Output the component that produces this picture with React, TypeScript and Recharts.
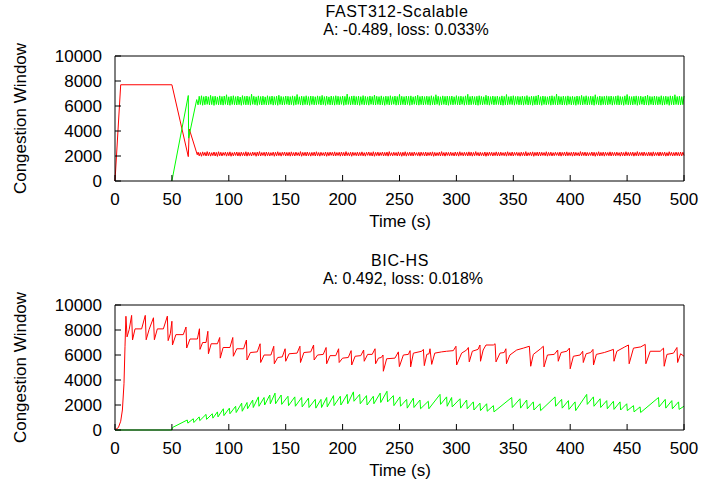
import { Line, LineChart, XAxis, YAxis } from 'recharts';

const xTicks = [0, 50, 100, 150, 200, 250, 300, 350, 400, 450, 500];
const yTicks = [0, 2000, 4000, 6000, 8000, 10000];

// FAST312-Scalable: start-up part, read point by point
const fastRedHeadT = [0, 5, 50, 64.4, 65.3, 72.3];
const fastRedHeadV = [0, 7700, 7700, 1950, 4150, 2100];
const fastGreenHeadT = [50, 64.4, 64.7, 71.8];
const fastGreenHeadV = [0, 6840, 3430, 6515];

// FAST312-Scalable: steady oscillation, one sample per second from t=73 to t=500
const fastOscStart = 73;
const fastGreenOsc = [
  6090, 6780, 6120, 6820, 6060, 6750, 6100, 6800, 6130, 6740, 6080, 6850, 6110, 6770, 6050, 6790, 6120, 6730, 6090, 6810,
  6100, 6760, 6070, 6800, 6130, 6900, 6090, 6740, 6060, 6780, 6120, 6820, 6100, 6750, 6080, 6790, 6110, 6720, 6060, 6830,
  6120, 6770, 6090, 6800, 6100, 6750, 6070, 6940, 6130, 6780, 6100, 6740, 6060, 6810, 6120, 6760, 6080, 6790, 6110, 6730,
  6090, 6820, 6100, 6760, 6130, 6800, 6070, 6750, 6110, 6790, 6060, 6860, 6120, 6770, 6090, 6740, 6100, 6800, 6130, 6780,
  6080, 6750, 6110, 6810, 6060, 6770, 6100, 6920, 6130, 6740, 6090, 6790, 6070, 6760, 6110, 6820, 6100, 6750, 6060, 6800,
  6120, 6780, 6090, 6740, 6100, 6810, 6130, 6770, 6080, 6850, 6110, 6750, 6060, 6790, 6120, 6730, 6090, 6800, 6100, 6760,
  6070, 6820, 6110, 6780, 6090, 6750, 6130, 6800, 6060, 6770, 6100, 6950, 6120, 6740, 6080, 6790, 6110, 6810, 6090, 6760,
  6100, 6790, 6060, 6750, 6120, 6830, 6090, 6770, 6110, 6740, 6070, 6800, 6130, 6760, 6100, 6880, 6080, 6780, 6120, 6750,
  6090, 6810, 6100, 6740, 6060, 6790, 6120, 6770, 6080, 6820, 6110, 6750, 6130, 6800, 6070, 6760, 6100, 6930, 6090, 6780,
  6110, 6750, 6080, 6800, 6120, 6770, 6060, 6810, 6100, 6740, 6130, 6790, 6090, 6860, 6070, 6760, 6110, 6800, 6080, 6750,
  6120, 6790, 6100, 6760, 6070, 6820, 6110, 6750, 6090, 6900, 6130, 6780, 6060, 6740, 6100, 6810, 6120, 6770, 6080, 6790,
  6060, 6770, 6110, 6800, 6090, 6740, 6120, 6830, 6100, 6760, 6080, 6790, 6130, 6750, 6070, 6810, 6110, 6940, 6090, 6760,
  6100, 6800, 6130, 6750, 6080, 6780, 6060, 6820, 6110, 6770, 6090, 6740, 6120, 6860, 6100, 6790, 6070, 6750, 6130, 6800,
  6090, 6760, 6110, 6790, 6120, 6740, 6080, 6810, 6060, 6770, 6100, 6920, 6090, 6750, 6120, 6780, 6110, 6820, 6070, 6760,
  6130, 6780, 6090, 6750, 6100, 6800, 6070, 6760, 6120, 6830, 6080, 6740, 6110, 6790, 6060, 6770, 6100, 6810, 6090, 6880,
  6110, 6750, 6060, 6800, 6120, 6770, 6090, 6740, 6130, 6790, 6070, 6820, 6100, 6760, 6110, 6950, 6080, 6780, 6120, 6750,
  6080, 6790, 6100, 6760, 6070, 6810, 6130, 6750, 6090, 6780, 6110, 6740, 6060, 6800, 6120, 6770, 6100, 6850, 6090, 6760,
  6120, 6820, 6080, 6750, 6110, 6790, 6100, 6770, 6060, 6900, 6130, 6740, 6090, 6800, 6070, 6760, 6110, 6780, 6100, 6810,
  6090, 6770, 6130, 6800, 6070, 6750, 6120, 6790, 6100, 6830, 6080, 6760, 6110, 6740, 6060, 6810, 6120, 6920, 6090, 6770,
  6100, 6750, 6090, 6780, 6120, 6810, 6060, 6760, 6110, 6790, 6130, 6740, 6080, 6800, 6100, 6860, 6070, 6770, 6120, 6750,
  6080, 6800, 6110, 6770, 6090, 6740, 6120, 6820, 6070, 6760, 6100, 6790, 6130, 6750, 6060, 6810, 6110, 6780, 6090, 6900,
  6120, 6760, 6100, 6790, 6080, 6750, 6110, 6800,
];
const fastRedOsc = [
  2310, 2010, 2280, 1980, 2330, 2040, 2290, 2000, 2350, 2020, 2300, 1990, 2270, 2030, 2320, 2000, 2290, 1970, 2340, 2020,
  2300, 2000, 2280, 2050, 2310, 1990, 2290, 2020, 2330, 1980, 2270, 2010, 2300, 2040, 2320, 2000, 2290, 1990, 2310, 2030,
  2280, 2010, 2340, 1990, 2300, 2030, 2270, 2000, 2320, 2050, 2290, 1980, 2310, 2020, 2350, 2000, 2280, 2040, 2300, 1990,
  2320, 2020, 2290, 2000, 2270, 2040, 2310, 1980, 2300, 2010, 2340, 2030, 2280, 1990, 2300, 2050, 2320, 2000, 2290, 2020,
  2300, 1990, 2330, 2020, 2280, 2000, 2310, 2040, 2270, 2010, 2350, 1980, 2290, 2030, 2300, 2000, 2320, 2020, 2280, 1990,
  2290, 2030, 2310, 2000, 2340, 2020, 2280, 1990, 2300, 2040, 2270, 2010, 2320, 1980, 2290, 2020, 2310, 2050, 2300, 2000,
  2330, 2010, 2280, 2040, 2300, 1990, 2320, 2020, 2290, 2000, 2350, 2030, 2270, 2010, 2310, 1980, 2300, 2040, 2280, 2020,
  2310, 2000, 2290, 2030, 2330, 2010, 2270, 1990, 2300, 2050, 2320, 2020, 2280, 2000, 2340, 1980, 2290, 2030, 2310, 2010,
  2280, 2040, 2320, 2000, 2290, 2020, 2310, 1990, 2350, 2030, 2270, 2010, 2300, 2040, 2280, 2000, 2330, 2020, 2290, 1980,
  2300, 2020, 2340, 1990, 2280, 2030, 2310, 2010, 2290, 2000, 2320, 2050, 2270, 2020, 2300, 1990, 2310, 2040, 2290, 2000,
  2320, 2000, 2280, 2040, 2300, 2020, 2330, 1980, 2290, 2010, 2270, 2030, 2310, 2000, 2350, 2020, 2280, 1990, 2300, 2040,
  2290, 2010, 2310, 2030, 2270, 2000, 2320, 2020, 2300, 1990, 2340, 2040, 2280, 2010, 2300, 2030, 2290, 2000, 2330, 2020,
  2310, 1990, 2290, 2020, 2350, 2040, 2280, 2000, 2300, 2030, 2270, 2010, 2320, 1980, 2290, 2020, 2310, 2040, 2300, 2000,
  2280, 2030, 2330, 2010, 2290, 2000, 2310, 2040, 2270, 2020, 2300, 1990, 2340, 2030, 2280, 2010, 2320, 2000, 2290, 2050,
  2300, 2020, 2280, 1990, 2310, 2030, 2290, 2010, 2350, 2000, 2270, 2040, 2300, 2020, 2330, 1980, 2290, 2030, 2310, 2000,
  2320, 2010, 2300, 2040, 2280, 2020, 2340, 1990, 2290, 2030, 2310, 2000, 2270, 2020, 2300, 2050, 2280, 2010, 2320, 1990,
  2290, 2040, 2310, 2000, 2330, 2020, 2280, 2030, 2300, 1990, 2320, 2010, 2290, 2040, 2270, 2000, 2350, 2020, 2300, 2030,
  2310, 2000, 2290, 2020, 2270, 2040, 2320, 2010, 2300, 1980, 2280, 2030, 2340, 2000, 2290, 2020, 2310, 1990, 2300, 2040,
  2280, 2020, 2330, 2000, 2300, 2030, 2290, 2010, 2310, 2040, 2270, 1990, 2320, 2020, 2280, 2000, 2340, 2030, 2290, 2010,
  2300, 2030, 2310, 1990, 2280, 2020, 2350, 2000, 2290, 2040, 2300, 2010, 2320, 2030, 2270, 2000, 2310, 2020, 2290, 1990,
  2330, 2010, 2280, 2040, 2300, 2000, 2320, 2020, 2290, 2030, 2310, 1990, 2270, 2010, 2340, 2040, 2300, 2000, 2280, 2020,
  2310, 2030, 2290, 2000, 2320, 2010, 2300, 2040,
];

// BIC-HS
const bicRedT = [
  0, 3, 5, 6.5, 7.9, 8.8, 9.6, 10.6, 12.5, 14.6, 15.4, 17.6, 23.4, 26.6, 27.4, 30, 33.8, 34.6, 37.2, 42.5, 46,
  46.7, 48.6, 50, 50.5, 53.5, 60, 62.4, 63, 65.9, 72.4, 74.2, 74.7, 77, 80, 81.6, 82.1, 84.5, 90, 92,
  92.5, 95, 101, 103.5, 104, 107, 113, 115.5, 116, 119, 125, 127.5, 128, 131, 137, 139.5, 140, 143, 147, 149.5,
  150, 153, 160, 162.5, 163, 166, 172, 174.5, 175, 178, 183, 185.5, 186, 189, 194, 196.5, 197, 200, 205, 207.5,
  208, 211, 216, 218.5, 219, 222, 226, 228.5, 229, 231.5, 234, 235.5, 235.8, 238.7, 246, 249, 249.9, 253.4, 257.8, 259.3,
  259.8, 262.2, 269.5, 271, 271.8, 274, 276, 276.8, 278.3, 281, 287, 291.4, 297.3, 299.6, 300.2, 304.6, 309, 310.5,
  311.3, 314, 319, 320.7, 321.2, 323.5, 326, 332.5, 334, 334.8, 338.3, 342, 343.5, 344, 347, 353, 358.8, 364.1,
  365.3, 367.6, 374, 376.4, 377, 380, 386, 389, 389.5, 392, 397, 399.3, 400, 402.8, 408.7, 411, 411.5, 414, 418, 420,
  420.5, 423, 430, 435, 438, 438.5, 441, 448, 451.2, 451.8, 455.6, 462, 465.9, 466.5, 470.3, 479.1, 482, 482.6, 485,
  490.8, 493.8, 494.4, 497, 500,
];
const bicRedV = [
  0, 200, 700, 1600, 3700, 6700, 9100, 7450, 8050, 9170, 7200, 8090, 8090, 9170, 7220, 8050, 8980, 7220, 8090, 8090, 9110,
  7150, 7700, 8700, 6800, 7630, 7630, 8240, 6560, 7280, 7280, 8100, 6450, 7000, 7000, 7900, 6100, 6900, 6900, 7400,
  5750, 6600, 6600, 7400, 5900, 6500, 6500, 7200, 5600, 6200, 6250, 6900, 5400, 6000, 6000, 6700, 5300, 5800, 5850, 6500,
  5500, 6100, 6150, 6700, 5400, 6200, 6250, 6800, 5600, 6000, 6050, 6600, 5300, 5950, 5950, 6500, 5400, 5750, 5800, 6350,
  5200, 5900, 5950, 6400, 5500, 6050, 6050, 6500, 5300, 5750, 5800, 6000, 4700, 5700, 5750, 6250, 5070, 6000, 6050, 6350,
  5050, 6150, 6300, 6450, 5150, 6050, 6100, 6500, 5250, 6150, 6250, 6300, 6350, 6700, 5200, 6150, 6400, 6600,
  5450, 6300, 6450, 6800, 5500, 6400, 6800, 6800, 6900, 5450, 6150, 6200, 6500, 5300, 6000, 6400, 6550, 6700,
  5100, 6050, 6500, 6700, 5050, 6000, 6050, 6400, 5500, 6200, 6300, 6550, 4900, 5900, 6000, 6300, 5400, 6100, 6200, 6450,
  5200, 6050, 6200, 6350, 6450, 5500, 6300, 6650, 6800, 5300, 6550, 6650, 6850, 5300, 6300, 6300, 6550, 5100, 6050,
  6150, 6600, 5400, 6100, 5900,
];
const bicGreenT = [
  0, 50, 50.5, 63.5, 64, 68.8, 69.3, 74, 74.5, 80, 80.5, 85.5, 86, 90, 90.5, 95.2, 95.7, 100.5, 101, 106, 106.5,
  111.3, 111.8, 116, 116.5, 121, 121.5, 126, 126.5, 131, 131.5, 136, 136.5, 140.6, 141.1, 146, 146.5, 152, 152.5,
  158, 158.5, 164, 164.5, 170, 170.5, 176, 176.5, 181, 181.5, 186, 186.5, 192, 192.5, 198, 198.5, 204, 204.5,
  209.5, 210, 215, 215.5, 221, 221.5, 227, 227.5, 233, 233.5, 239, 239.5, 244.6, 245.1, 250.4, 250.9, 256.3, 256.8,
  262.2, 262.7, 268, 268.5, 275.3, 275.8, 285.6, 286.1, 291.4, 291.9, 295.8, 296.3, 303.2, 303.7, 309, 309.5,
  314.9, 315.4, 320.7, 321.2, 326.6, 327.1, 332.5, 333, 348.6, 349.1, 355.9, 356.4, 361.8, 362.3, 367.6, 368.1,
  373.5, 374, 386.7, 387.2, 392.5, 393, 398.4, 398.9, 404.3, 404.8, 414.5, 415, 420.4, 420.9, 426.3, 426.8,
  432.1, 432.6, 438, 438.5, 443.8, 444.3, 449.7, 450.2, 455.6, 456.1, 461.4, 461.9, 477.6, 478.1, 483.5, 484,
  489.3, 489.8, 495.2, 495.7, 500,
];
const bicGreenV = [
  0, 0, 200, 800, 550, 900, 600, 1050, 750, 1250, 850, 1300, 950, 1450, 1050, 1700, 1150, 1750, 1300, 1900, 1400,
  2150, 1500, 2200, 1700, 2400, 1800, 2650, 1900, 2600, 2000, 2800, 2100, 2950, 2100, 2800, 2050, 2700, 1950,
  2650, 1900, 2600, 1850, 2550, 1800, 2450, 1750, 2450, 1800, 2600, 1850, 2750, 1950, 2700, 2000, 2850, 2100,
  3050, 2300, 2850, 2100, 2750, 2000, 2700, 2100, 2950, 2200, 3100, 2250, 2750, 1950, 2650, 1900, 2450, 1750,
  2550, 1800, 2400, 1700, 2300, 1700, 2850, 2050, 2650, 1900, 2600, 1850, 2500, 1750, 2400, 1700,
  2250, 1600, 2150, 1550, 2100, 1500, 1950, 1450, 2600, 1800, 2500, 1750, 2400, 1700, 2250, 1600,
  2100, 1550, 2650, 1900, 2450, 1750, 2350, 1650, 2250, 1550, 2850, 2050, 2650, 1900, 2500, 1800,
  2350, 1700, 2300, 1650, 2250, 1600, 2100, 1550, 1950, 1450, 1850, 1400, 2600, 1850, 2450, 1750,
  2350, 1700, 2250, 1650, 1900,
];

const toPoints = (ts: number[], vs: number[]) => ts.map((t, i) => ({ t, v: vs[i] }));
const oscPoints = (vs: number[]) => vs.map((v, i) => ({ t: fastOscStart + i, v }));

const fastRed = [...toPoints(fastRedHeadT, fastRedHeadV), ...oscPoints(fastRedOsc)];
const fastGreen = [...toPoints(fastGreenHeadT, fastGreenHeadV), ...oscPoints(fastGreenOsc)];
const bicRed = toPoints(bicRedT, bicRedV);
const bicGreen = toPoints(bicGreenT, bicGreenV);

const FONT = "'Liberation Sans', Arial, Helvetica, sans-serif";
const FS = 17;

const BottomTick = (props: any) => {
  const { x, y, payload } = props;
  return (
    <g>
      <line x1={x} y1={y} x2={x} y2={y - 6} stroke='#000' />
      <text x={x} y={y + 24} textAnchor='middle' fontSize={FS} fontFamily={FONT} fill='#000'>
        {payload.value}
      </text>
    </g>
  );
};

const TopTick = (props: any) => {
  const { x, y } = props;
  return <line x1={x} y1={y} x2={x} y2={y + 6} stroke='#000' />;
};

const LeftTick = (props: any) => {
  const { x, y, payload } = props;
  return (
    <g>
      <line x1={x} y1={y} x2={x + 6} y2={y} stroke='#000' />
      <text x={x - 13} y={y + 6} textAnchor='end' fontSize={FS} fontFamily={FONT} fill='#000'>
        {payload.value}
      </text>
    </g>
  );
};

const RightTick = (props: any) => {
  const { x, y } = props;
  return <line x1={x} y1={y} x2={x - 6} y2={y} stroke='#000' />;
};

interface PanelProps {
  title: string;
  subtitle: string;
  titleX: number;
  subtitleX: number;
  red: { t: number; v: number }[];
  green: { t: number; v: number }[];
}

const Panel = ({ title, subtitle, titleX, subtitleX, red, green }: PanelProps) => (
  <LineChart width={701} height={245} margin={{ top: 46, right: 7, bottom: 34, left: 55 }}>
    <XAxis
      xAxisId='b'
      type='number'
      dataKey='t'
      domain={[0, 500]}
      ticks={xTicks}
      tickSize={0}
      tickMargin={0}
      tickLine={false}
      tick={<BottomTick />}
      axisLine={{ stroke: '#000' }}
      height={30}
    />
    <XAxis
      xAxisId='t'
      orientation='top'
      type='number'
      dataKey='t'
      domain={[0, 500]}
      ticks={xTicks}
      tickSize={0}
      tickMargin={0}
      tickLine={false}
      tick={<TopTick />}
      axisLine={{ stroke: '#000' }}
      height={10}
    />
    <YAxis
      yAxisId='l'
      type='number'
      domain={[0, 10000]}
      ticks={yTicks}
      tickSize={0}
      tickMargin={0}
      tickLine={false}
      tick={<LeftTick />}
      axisLine={{ stroke: '#000' }}
      width={60}
    />
    <YAxis
      yAxisId='r'
      orientation='right'
      type='number'
      domain={[0, 10000]}
      ticks={yTicks}
      tickSize={0}
      tickMargin={0}
      tickLine={false}
      tick={<RightTick />}
      axisLine={{ stroke: '#000' }}
      width={10}
    />
    <Line
      xAxisId='b'
      yAxisId='l'
      data={red}
      dataKey='v'
      type='linear'
      stroke='#ff0000'
      strokeWidth={1}
      dot={false}
      activeDot={false}
      isAnimationActive={false}
    />
    <Line
      xAxisId='b'
      yAxisId='l'
      data={green}
      dataKey='v'
      type='linear'
      stroke='#00ff00'
      strokeWidth={1}
      dot={false}
      activeDot={false}
      isAnimationActive={false}
    />
    <text x={titleX} y={16.5} textAnchor='middle' fontSize={16} letterSpacing={0.6} fontFamily={FONT} fill='#000'>
      {title}
    </text>
    <text x={subtitleX} y={35} textAnchor='middle' fontSize={16} fontFamily={FONT} fill='#000'>
      {subtitle}
    </text>
    <text x={400} y={227} textAnchor='middle' fontSize={FS} fontFamily={FONT} fill='#000'>
      Time (s)
    </text>
    <text
      transform='rotate(-90)'
      x={-118.5}
      y={26}
      textAnchor='middle'
      fontSize={FS}
      fontFamily={FONT}
      fill='#000'
    >
      Congestion Window
    </text>
  </LineChart>
);

const App = () => (
  <div style={{ position: 'fixed', left: 0, top: 0, width: 701, height: 489, background: '#fff' }}>
    <div style={{ position: 'absolute', left: 0, top: 0 }}>
      <Panel
        title='FAST312-Scalable'
        subtitle='A: -0.489, loss: 0.033%'
        titleX={397}
        subtitleX={406}
        red={fastRed}
        green={fastGreen}
      />
    </div>
    <div style={{ position: 'absolute', left: 0, top: 249 }}>
      <Panel
        title='BIC-HS'
        subtitle='A: 0.492, loss: 0.018%'
        titleX={400}
        subtitleX={403}
        red={bicRed}
        green={bicGreen}
      />
    </div>
  </div>
);

export default App;
